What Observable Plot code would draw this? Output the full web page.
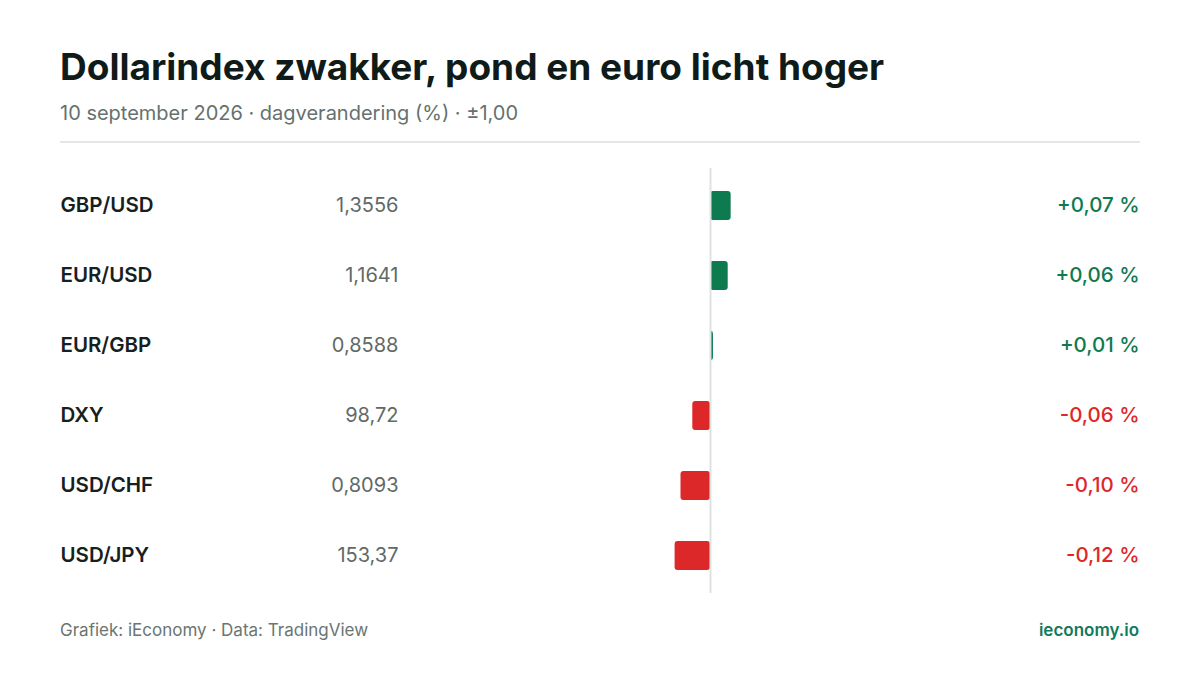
<!DOCTYPE html>
<html>
<head>
<meta charset="utf-8">
<script src="https://cdn.jsdelivr.net/npm/d3@7"></script>
<script src="https://cdn.jsdelivr.net/npm/@observablehq/plot@0.6"></script>
<style>
  html, body { margin: 0; padding: 0; background: #ffffff; }
  body { width: 1200px; height: 675px; position: relative; font-family: Inter, "Noto Sans", sans-serif; overflow: hidden; }
  #title { position: absolute; left: 60px; top: 45px; font-size: 37px; font-weight: 700; color: #0f1b19; line-height: 44px; white-space: nowrap; }
  #subtitle { position: absolute; left: 60px; top: 101px; font-size: 20px; font-weight: 400; color: #66716e; line-height: 24px; white-space: nowrap; }
  #rule { position: absolute; left: 60px; top: 141px; width: 1080px; height: 2px; background: #e3e8e6; }
  #chart { position: absolute; left: 0; top: 160px; }
  #source { position: absolute; left: 60px; top: 620px; font-size: 17px; color: #6a7572; line-height: 20px; }
  #brand { position: absolute; right: 61px; top: 620px; font-size: 17px; font-weight: 600; color: #12795c; line-height: 20px; }
</style>
</head>
<body>
<div id="title">Dollarindex zwakker, pond en euro licht hoger</div>
<div id="subtitle">10 september 2026 · dagverandering (%) · ±1,00</div>
<div id="rule"></div>
<div id="chart"></div>
<div id="source">Grafiek: iEconomy · Data: TradingView</div>
<div id="brand">ieconomy.io</div>
<script>
const pairs = ["GBP/USD", "EUR/USD", "EUR/GBP", "DXY", "USD/CHF", "USD/JPY"];
const rates = [1.3556, 1.1641, 0.8588, 98.72, 0.8093, 153.37];
const rateDecimals = [4, 4, 4, 2, 4, 2];
const changes = [0.07, 0.06, 0.01, -0.06, -0.10, -0.12];
const domainLimit = 1.0;

const green = "#0e7a4f";
const red = "#dc2828";

const rows = pairs.map((p, i) => ({
  pair: p,
  rate: rates[i],
  rateLabel: rates[i].toFixed(rateDecimals[i]).replace(".", ","),
  change: changes[i],
  changeLabel: (changes[i] > 0 ? "+" : changes[i] < 0 ? "-" : "") + Math.abs(changes[i]).toFixed(2).replace(".", ",") + " %"
}));

const chart = Plot.plot({
  width: 1200,
  height: 440,
  marginTop: 8,
  marginBottom: 7,
  marginLeft: 0,
  marginRight: 0,
  style: { fontFamily: "Inter, 'Noto Sans', sans-serif", background: "transparent" },
  x: { domain: [-domainLimit, domainLimit], range: [415, 1005], axis: null },
  y: { domain: pairs, axis: null, paddingInner: 0.58, paddingOuter: 0.29 },
  marks: [
    Plot.barX(rows, {
      x1: 0, x2: "change", y: "pair",
      fill: d => d.change >= 0 ? green : red,
      rx: 3
    }),
    Plot.ruleX([0], { stroke: "#dde3e1", strokeWidth: 2 }),
    Plot.text(rows, {
      y: "pair", text: "pair", frameAnchor: "left", dx: 60, dy: -0.5,
      textAnchor: "start", fontSize: 20.5, fontWeight: 600, fill: "#16201e"
    }),
    Plot.text(rows, {
      y: "pair", text: "rateLabel", frameAnchor: "left", dx: 398, dy: -0.5,
      textAnchor: "end", fontSize: 20, fontWeight: 400, fill: "#5f6a67"
    }),
    Plot.text(rows, {
      y: "pair", text: "changeLabel", frameAnchor: "right", dx: -61, dy: -0.5,
      textAnchor: "end", fontSize: 20.5, fontWeight: 500,
      fill: d => d.change >= 0 ? green : red
    })
  ]
});
document.getElementById("chart").appendChild(chart);
</script>
</body>
</html>
